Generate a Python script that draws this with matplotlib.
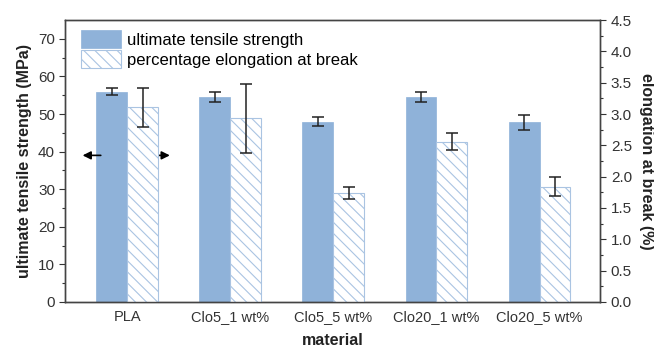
import numpy as np
import matplotlib.pyplot as plt

plt.rcParams['font.family'] = ['Liberation Sans', 'DejaVu Sans']
plt.rcParams['hatch.linewidth'] = 0.8

materials = ["PLA", "Clo5_1 wt%", "Clo5_5 wt%", "Clo20_1 wt%", "Clo20_5 wt%"]
uts = [56.0, 54.5, 48.0, 54.6, 47.8]          # MPa
uts_err = [0.9, 1.3, 1.3, 1.3, 2.0]
elong = [3.11, 2.93, 1.74, 2.56, 1.84]        # %
elong_err = [0.31, 0.55, 0.10, 0.13, 0.15]

blue = "#8fb2d9"
hatch_blue = "#aac4e2"

x = np.arange(len(materials))
w = 0.3

fig, ax = plt.subplots(figsize=(6.54, 3.47), dpi=100)
ax2 = ax.twinx()

b1 = ax.bar(x - w / 2, uts, w, color=blue, edgecolor=blue, linewidth=0.5,
            label="ultimate tensile strength", zorder=2)
ax.errorbar(x - w / 2, uts, yerr=uts_err, fmt="none", ecolor="#222222",
            elinewidth=1.1, capsize=4, capthick=1.1, zorder=3)

b2 = ax2.bar(x + w / 2, elong, w, color="white", edgecolor=hatch_blue,
             hatch="\\\\\\", linewidth=0.8,
             label="percentage elongation at break", zorder=2)
ax2.errorbar(x + w / 2, elong, yerr=elong_err, fmt="none", ecolor="#222222",
             elinewidth=1.1, capsize=4, capthick=1.1, zorder=3)

ax.set_xlim(-0.6, 4.59)
ax.set_ylim(0, 75)
ax2.set_ylim(0, 4.5)
ax.set_yticks(np.arange(0, 71, 10))
ax.set_yticks(np.arange(5, 75, 10), minor=True)
ax2.set_yticks(np.arange(0, 4.51, 0.5))
ax2.set_yticks(np.arange(0.25, 4.5, 0.5), minor=True)
ax2.set_yticklabels([f"{v:.1f}" for v in np.arange(0, 4.51, 0.5)])

ax.set_xticks(x)
ax.set_xticklabels(materials)
ax.tick_params(axis="x", length=0, labelsize=10.5, colors="#333333", pad=6)
ax.tick_params(axis="y", direction="out", length=4, width=0.8,
               labelsize=11, colors="#333333")
ax.tick_params(axis="y", which="minor", length=2.5, width=0.8, color="#333333")
ax2.tick_params(axis="y", direction="out", length=4, width=0.8,
                labelsize=11, colors="#333333")
ax2.tick_params(axis="y", which="minor", length=2.5, width=0.8, color="#333333")

for a in (ax, ax2):
    for s in a.spines.values():
        s.set_color("#444444")
        s.set_linewidth(1.0)

ax.set_xlabel("material", fontsize=11.5, fontweight="bold", color="#222222",
              labelpad=6)
ax.set_ylabel("ultimate tensile strength (MPa)", fontsize=11.5,
              fontweight="bold", color="#222222", labelpad=4)
ax2.set_ylabel("elongation at break (%)", fontsize=11.5, fontweight="bold",
               color="#222222", rotation=270, labelpad=16)

# arrows pointing to the matching axis
ax.annotate("", xy=(-0.46, 39), xytext=(-0.23, 39),
            arrowprops=dict(arrowstyle="-|>", color="black", lw=1.2,
                            mutation_scale=12))
ax.annotate("", xy=(0.44, 39), xytext=(0.22, 39),
            arrowprops=dict(arrowstyle="-|>", color="black", lw=1.2,
                            mutation_scale=12))

ax.legend([b1, b2], ["ultimate tensile strength", "percentage elongation at break"],
          loc="upper left", bbox_to_anchor=(0.01, 1.0), frameon=False,
          fontsize=12, handlelength=2.4, handleheight=1.3,
          labelspacing=0.12, handletextpad=0.4, borderaxespad=0.2)

fig.subplots_adjust(left=0.1, right=0.918, top=0.942, bottom=0.13)
fig.savefig("out.png", dpi=100)
